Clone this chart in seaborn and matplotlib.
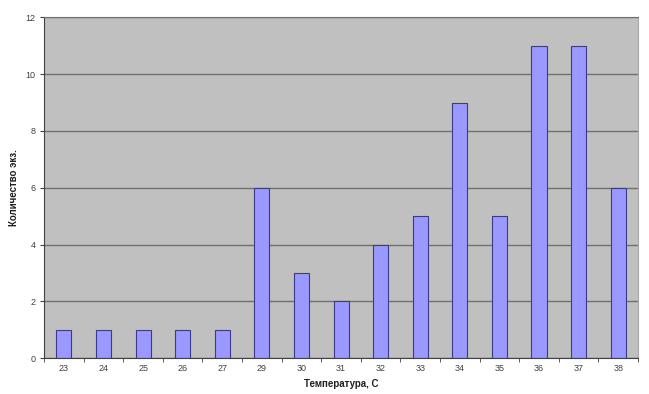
import matplotlib

matplotlib.use("Agg")

import matplotlib.pyplot as plt
import numpy as np
import pandas as pd
import seaborn as sns

temperatures = ["23", "24", "25", "26", "27", "29", "30", "31", "32", "33", "34", "35", "36", "37", "38"]
counts = [1, 1, 1, 1, 1, 6, 3, 2, 4, 5, 9, 5, 11, 11, 6]
y_ticks = [0, 2, 4, 6, 8, 10, 12]

df = pd.DataFrame({"temp": temperatures, "count": counts})

sns.set_style("white")
plt.rcParams["font.family"] = ["Liberation Sans", "DejaVu Sans"]

fig = plt.figure(figsize=(6.49, 3.94), dpi=100)
ax = fig.add_axes([0.068, 0.091, 0.915, 0.865])
ax.set_facecolor("#C0C0C0")

sns.barplot(
    data=df, x="temp", y="count", order=temperatures, color="#9999FF",
    width=0.38, edgecolor="#3A3A8A", linewidth=0.8, saturation=1, ax=ax,
)

ax.set_ylim(0, 12)
ax.set_xlim(-0.5, len(temperatures) - 0.5)
ax.set_yticks(y_ticks)
ax.yaxis.grid(True, color="#707070", linewidth=1.0)
ax.set_axisbelow(True)

# Excel-style ticks between categories
ax.set_xticks(np.arange(len(temperatures)))
ax.set_xticklabels(temperatures)
ax.set_xticks(np.arange(len(temperatures) + 1) - 0.5, minor=True)
ax.tick_params(axis="x", which="major", length=0, pad=4, labelsize=6.5, labelcolor="#404040")
ax.tick_params(axis="x", which="minor", length=3, direction="out", color="#404040", bottom=True)
ax.tick_params(axis="y", length=3, direction="out", left=True, color="#404040",
               labelsize=6.5, labelcolor="#404040", pad=3)

for side in ["left", "bottom"]:
    ax.spines[side].set_color("#404040")
    ax.spines[side].set_linewidth(0.8)
ax.spines["top"].set_color("#707070")
ax.spines["right"].set_color("#A8A8A8")

ax.set_xlabel("Температура, С", fontsize=7, fontweight="bold", color="#202020")
ax.set_ylabel("Количество экз.", fontsize=7, fontweight="bold", color="#202020")
ax.xaxis.set_label_coords(0.5, -0.062)
ax.yaxis.set_label_coords(-0.042, 0.5)

fig.savefig("out.png", dpi=100, facecolor="white")
